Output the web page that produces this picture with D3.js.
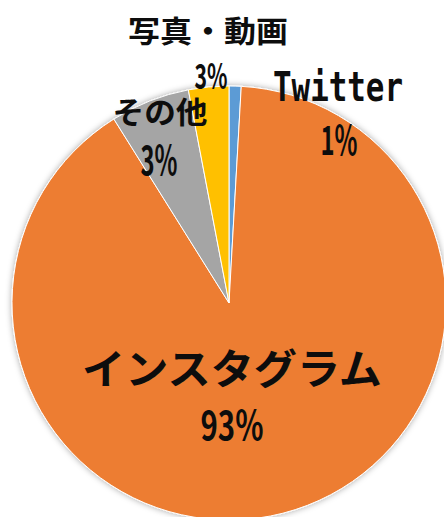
<!DOCTYPE html>
<html>
<head>
<meta charset="utf-8">
<script src="https://cdn.jsdelivr.net/npm/d3@7"></script>
<style>
  html, body { margin: 0; padding: 0; background: #fff; }
  svg { display: block; }
</style>
</head>
<body>
<div id="chart"></div>
<script>
// Data (clockwise from 12 o'clock)
const categories = ["Twitter", "インスタグラム", "その他", "写真・動画"];
const values = [0.9, 90.2, 5.9, 3.0];
const pctLabels = ["1%", "93%", "3%", "3%"];
const colors = ["#5B9BD5", "#ED7D31", "#A5A5A5", "#FFC000"];

const width = 444, height = 517;
const cx = 229, cy = 303, radius = 217;

// label layout: offset of name / value centres from pie centre, text sizes and widths
const labelLayout = [
    {nx: 109, ny: -216, nSize: 40, nLen: 130, nFont: "'DejaVu Sans Mono', monospace", vx: 110, vy: -165, vSize: 40, vLen: 37},
    {nx: 3, ny: 63, nSize: 41, nLen: 300, vx: 3, vy: 120, vSize: 40, vLen: 63},
    {nx: -69, ny: -193, nSize: 30, nLen: 95, vx: -70, vy: -145, vSize: 40, vLen: 37},
    {nx: -21, ny: -274, nSize: 30, nLen: 160, vx: -18, vy: -230, vSize: 35, vLen: 33}
];

const svg = d3.select("#chart")
    .append("svg")
    .attr("width", width)
    .attr("height", height);

// soft shadow round the pie
const defs = svg.append("defs");
defs.append("filter")
    .attr("id", "shadow")
    .attr("x", "-20%").attr("y", "-20%")
    .attr("width", "140%").attr("height", "140%")
    .append("feDropShadow")
    .attr("dx", 0).attr("dy", 0)
    .attr("stdDeviation", 3)
    .attr("flood-color", "#000")
    .attr("flood-opacity", 0.35);

const g = svg.append("g")
    .attr("transform", `translate(${cx}, ${cy})`);

const pie = d3.pie()
    .sort(null)
    .value(d => d.value);

const arc = d3.arc()
    .innerRadius(0)
    .outerRadius(radius);

const table = categories.map((c, i) => ({name: c, value: values[i], pct: pctLabels[i], color: colors[i], lay: labelLayout[i]}));
const arcs = pie(table);

g.append("g")
    .attr("filter", "url(#shadow)")
    .selectAll("path")
    .data(arcs)
    .join("path")
    .attr("d", arc)
    .attr("fill", d => d.data.color)
    .attr("stroke", "#fff")
    .attr("stroke-width", 1);

// labels
const labels = g.append("g")
    .style("font-family", "'Noto Sans CJK JP', sans-serif")
    .style("font-weight", 700)
    .attr("fill", "#0d0d0d");

labels.selectAll("text.name")
    .data(arcs)
    .join("text")
    .attr("class", "name")
    .attr("x", d => d.data.lay.nx)
    .attr("y", d => d.data.lay.ny)
    .attr("text-anchor", "middle")
    .attr("dominant-baseline", "central")
    .style("font-family", d => d.data.lay.nFont || null)
    .style("font-size", d => d.data.lay.nSize + "px")
    .attr("textLength", d => d.data.lay.nLen)
    .attr("lengthAdjust", "spacingAndGlyphs")
    .text(d => d.data.name);

labels.selectAll("text.value")
    .data(arcs)
    .join("text")
    .attr("class", "value")
    .attr("x", d => d.data.lay.vx)
    .attr("y", d => d.data.lay.vy)
    .attr("text-anchor", "middle")
    .attr("dominant-baseline", "central")
    .style("font-size", d => d.data.lay.vSize + "px")
    .attr("textLength", d => d.data.lay.vLen)
    .attr("lengthAdjust", "spacingAndGlyphs")
    .text(d => d.data.pct);
</script>
</body>
</html>
